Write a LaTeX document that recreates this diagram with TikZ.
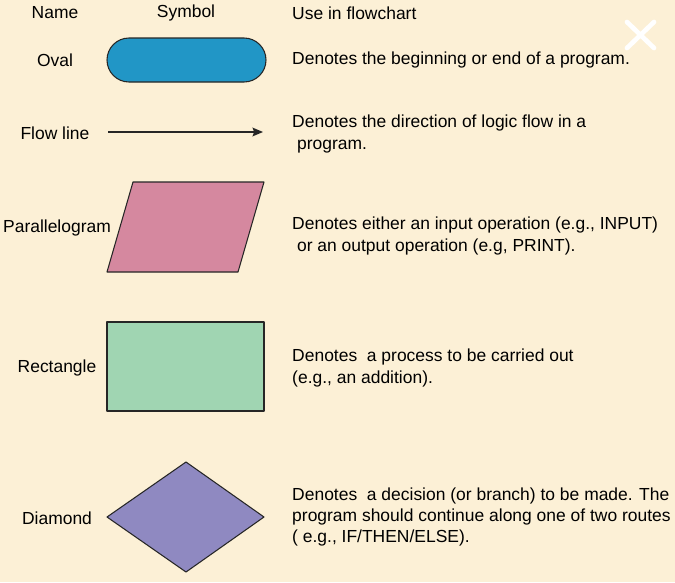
\documentclass[tikz,border=0pt]{standalone}
\usepackage{fontspec}
\setmainfont{Liberation Sans}
\usetikzlibrary{arrows.meta}
\definecolor{paper}{HTML}{FCF0D6}
\definecolor{ovalblue}{HTML}{2196C6}
\definecolor{parapink}{HTML}{D5889F}
\definecolor{rectgreen}{HTML}{A0D5B2}
\definecolor{diapurple}{HTML}{8F89C1}
\tikzset{
  txt/.style={inner sep=0pt, font=\fontsize{14.9}{18}\selectfont},
  namelbl/.style={txt, anchor=center},
  uselbl/.style={txt, anchor=west, align=left},
  symbol/.style={draw=black!85, line width=0.9pt, line join=round}
}
\begin{document}
\begin{tikzpicture}[x=0.03cm, y=-0.03cm]
				\fill[paper] (0,0) rectangle (675,582);
				\useasboundingbox (0,0) rectangle (675,582);

				% column headers
				\node[namelbl] (hname) at (55,13) {Name};
				\node[namelbl] (hsymbol) at (186,13) {Symbol};
				\node[txt, anchor=west] (huse) at (292,13) {Use in flowchart};

				% white close mark
				\draw[white, line width=4pt, line cap=round] (627,22) -- (654,48) (654,22) -- (627,48);

				% symbols
				\draw[symbol, fill=ovalblue, rounded corners=0.66cm] (107,38) rectangle (266,82);
				\coordinate (flowA) at (108,132);
				\coordinate (flowB) at (263,132);
				\draw[black!85, line width=1.1pt, -{Stealth[length=9pt, width=7.5pt, inset=1.5pt]}] (flowA) -- (flowB);
				\draw[symbol, fill=parapink] (133,182) -- (264,182) -- (238,272) -- (107,272) -- cycle;
				\draw[symbol, fill=rectgreen] (107,322) rectangle (264,411);
				\draw[symbol, fill=diapurple] (186,462) -- (264,517) -- (186,572) -- (107,517) -- cycle;

				% names
				\node[namelbl] (noval) at (55,60) {Oval};
				\node[namelbl] (nflow) at (55,133) {Flow line};
				\node[namelbl] (npara) at (57,228) {Parallelogram};
				\node[namelbl] (nrect) at (57,368) {Rectangle};
				\node[namelbl] (ndia) at (57,518) {Diamond};

				% uses
				\node[uselbl] (uoval) at (292,60) {Denotes the beginning or end of a program.};
				\node[uselbl] (uflow) at (292,134) {Denotes the direction of logic flow in a\\\mbox{}\ program.};
				\node[uselbl] (upara) at (292,236) {Denotes either an input operation (e.g., INPUT)\\\mbox{}\ or an output operation (e.g, PRINT).};
				\node[uselbl] (urect) at (292,368) {Denotes\ \ a process to be carried out\\(e.g., an addition).};
				\node[uselbl] (udia) at (292,517) {Denotes\ \ a decision (or branch) to be made. The\\program should continue along one of two routes\\( e.g., IF/THEN/ELSE).};
\end{tikzpicture}
\end{document}
